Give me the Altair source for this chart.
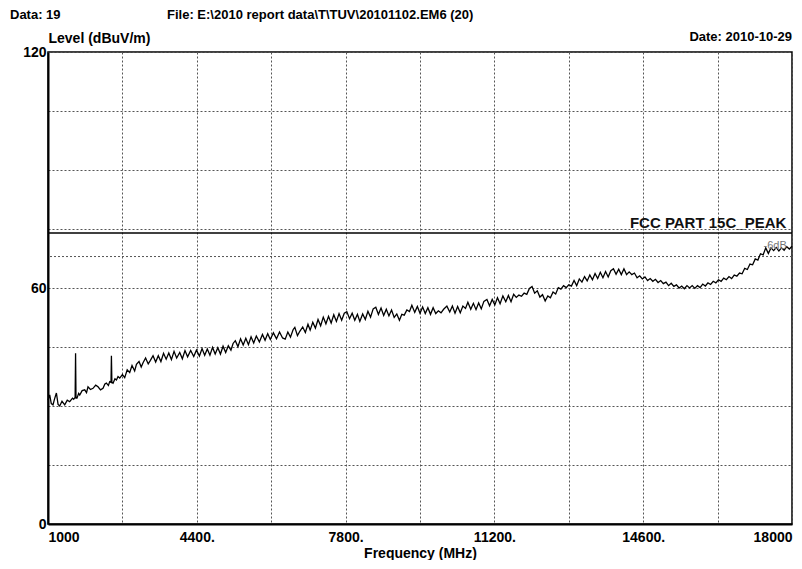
import altair as alt
import pandas as pd

# ---- data ----
freq_mhz = [
    1000, 1039, 1075, 1114, 1150, 1192, 1230, 1267, 1320, 1382, 1440, 1496, 1560, 1587,
    1620, 1630, 1640, 1663, 1700, 1725, 1780, 1839, 1880, 1914, 1970, 2029, 2090, 2143,
    2200, 2257, 2300, 2335, 2380, 2410, 2440, 2449, 2460, 2486, 2530, 2564, 2600, 2639,
    2700, 2753, 2810, 2867, 2920, 2980, 3021, 3080, 3130, 3172, 3230, 3290, 3340, 3400,
    3460, 3520, 3580, 3640, 3700, 3760, 3820, 3880, 3940, 4010, 4070, 4130, 4190, 4260,
    4330, 4392, 4460, 4520, 4580, 4640, 4700, 4760, 4820, 4880, 4940, 5000, 5060, 5120,
    5180, 5229, 5280, 5340, 5400, 5460, 5520, 5580, 5640, 5700, 5760, 5830, 5900, 5960,
    6020, 6080, 6150, 6221, 6290, 6360, 6420, 6480, 6540, 6600, 6640, 6700, 6754, 6820,
    6880, 6940, 6990, 7050, 7110, 7170, 7230, 7290, 7350, 7410, 7470, 7530, 7590, 7650,
    7710, 7770, 7828, 7890, 7950, 8010, 8070, 8125, 8190, 8250, 8310, 8370, 8430, 8490,
    8550, 8610, 8670, 8730, 8790, 8850, 8910, 8970, 9030, 9085, 9140, 9200, 9260, 9314,
    9380, 9440, 9500, 9560, 9620, 9680, 9740, 9800, 9860, 9920, 9980, 10040, 10114, 10180,
    10240, 10300, 10360, 10420, 10480, 10540, 10594, 10660, 10720, 10780, 10840, 10900,
    10960, 11029, 11090, 11150, 11210, 11270, 11330, 11394, 11460, 11520, 11580, 11640,
    11700, 11760, 11820, 11880, 11940, 12000, 12060, 12120, 12180, 12240, 12300, 12360,
    12420, 12480, 12540, 12600, 12660, 12720, 12780, 12840, 12900, 12960, 13020, 13080,
    13140, 13200, 13260, 13320, 13380, 13440, 13500, 13560, 13620, 13680, 13740, 13800,
    13860, 13920, 13980, 14040, 14100, 14160, 14220, 14280, 14340, 14400, 14460, 14520,
    14580, 14640, 14700, 14760, 14820, 14880, 14940, 15000, 15060, 15120, 15180, 15240,
    15300, 15360, 15420, 15480, 15540, 15600, 15660, 15720, 15780, 15840, 15900, 15960,
    16020, 16080, 16140, 16200, 16260, 16320, 16380, 16440, 16500, 16560, 16620, 16680,
    16740, 16800, 16860, 16920, 16980, 17040, 17100, 17160, 17220, 17280, 17340, 17400,
    17460, 17520, 17580, 17640, 17700, 17760, 17820, 17880, 17940, 18000,
]
level_dbuv = [
    31.5, 32.8, 30.6, 30.3, 31.8, 33.3, 30.4, 30.0, 31.2, 30.3, 31.5, 31.1, 32.0, 31.7,
    32.2, 43.4, 32.0, 32.0, 33.2, 32.8, 33.9, 34.1, 33.4, 34.9, 34.2, 34.5, 35.3, 34.9,
    34.1, 34.5, 35.6, 35.8, 35.2, 36.2, 36.0, 42.8, 36.0, 35.8, 36.9, 36.6, 37.5, 37.1,
    38.0, 37.2, 39.2, 38.5, 40.3, 38.9, 40.6, 41.3, 39.9, 41.0, 42.2, 40.7, 41.6, 42.8,
    41.2, 42.8, 41.3, 43.4, 41.9, 43.5, 41.8, 43.9, 42.2, 43.6, 42.0, 44.1, 42.5, 44.1,
    42.6, 44.2, 42.7, 44.6, 42.9, 44.5, 42.9, 44.9, 43.2, 44.8, 43.2, 45.2, 43.6, 45.3,
    44.2, 45.9, 46.6, 45.1, 47.1, 45.5, 47.2, 45.6, 47.6, 46.0, 47.8, 46.3, 48.2, 46.7,
    48.4, 46.9, 48.6, 47.1, 48.8, 47.3, 47.0, 48.8, 47.5, 49.4, 50.0, 47.9, 49.0, 50.1,
    48.7, 50.8, 49.3, 51.3, 49.8, 52.0, 50.4, 52.6, 50.9, 52.8, 51.1, 53.2, 51.5, 53.5,
    51.8, 53.6, 54.0, 52.2, 53.6, 51.8, 53.3, 51.5, 53.4, 52.0, 54.1, 52.6, 54.7, 55.1,
    53.3, 54.9, 53.0, 54.6, 52.9, 54.4, 52.5, 53.4, 51.8, 53.3, 53.1, 54.4, 54.0, 55.6,
    53.8, 55.3, 53.6, 55.2, 53.5, 55.0, 53.3, 55.0, 53.5, 54.2, 53.7, 54.6, 55.4, 53.9,
    55.4, 53.6, 55.3, 53.7, 55.4, 54.8, 56.4, 54.6, 56.1, 54.5, 56.2, 54.7,
    56.6, 57.1, 55.5, 57.1, 55.7, 57.5, 56.0, 58.0, 56.5, 58.1, 56.5, 58.4,
    57.6, 58.2, 57.9, 58.7, 58.4, 59.9, 60.4, 58.7, 59.3, 57.7, 58.3, 56.7,
    58.0, 57.5, 59.0, 58.5, 60.1, 59.7, 60.6, 60.1, 60.8, 60.5, 61.9, 60.6,
    62.3, 61.5, 62.9, 61.8, 63.3, 62.1, 63.7, 62.4, 64.0, 62.6, 64.2, 62.8,
    64.4, 64.9, 63.5, 64.8, 63.4, 64.9, 63.4, 64.1, 63.4, 63.8, 62.6, 63.1,
    62.3, 62.8, 61.9, 62.4, 61.7, 62.2, 61.4, 61.9, 61.1, 61.5, 60.6, 61.2,
    60.4, 60.8, 60.0, 60.5, 59.8, 60.6, 60.0, 60.6, 59.9, 60.6, 60.1, 61.0,
    60.5, 61.3, 60.9, 61.7, 61.3, 62.1, 61.7, 62.5, 62.1, 62.9, 62.4, 63.3,
    63.0, 63.8, 63.6, 65.0, 64.7, 66.1, 65.9, 67.4, 67.1, 68.7, 68.4, 70.2,
    68.8, 70.2, 69.5, 70.3, 69.4, 70.2, 69.6, 70.5, 69.9, 70.6,
]
assert len(freq_mhz) == len(level_dbuv)

grid_freqs = [1000, 2700, 4400, 6100, 7800, 9500, 11200, 12900, 14600, 16300, 18000]
label_freqs = [1000, 4400, 7800, 11200, 14600, 18000]
grid_levels = [0, 15, 30, 45, 60, 75, 90, 105, 120]
label_levels = [0, 60, 120]

limit_level = [74]
limit_name = ["FCC PART 15C_PEAK"]
limit_label_freq = [17870]
limit_label_level = [75.2]
margin_level = [68]
margin_name = ["-6dB"]
margin_label_freq = [17880]
margin_label_level = [70.8]

FONT = "Liberation Sans Narrow, Arial Narrow, Liberation Sans, Arial"

trace = pd.DataFrame({"freq": freq_mhz, "level": level_dbuv})
limits = pd.DataFrame({"level": limit_level})
margins = pd.DataFrame({"level": margin_level})
limit_txt = pd.DataFrame({"freq": limit_label_freq, "level": limit_label_level, "t": limit_name})
margin_txt = pd.DataFrame({"freq": margin_label_freq, "level": margin_label_level, "t": margin_name})

xscale = alt.Scale(domain=[1000, 18000], nice=False, zero=False)
yscale = alt.Scale(domain=[0, 120], nice=False)

lab_list = ",".join(str(v) for v in label_freqs)
x_axis = alt.Axis(
    values=grid_freqs,
    labelExpr=(
        f"indexof([{lab_list}], datum.value) >= 0 ? "
        f"((datum.value == {label_freqs[0]} || datum.value == {label_freqs[-1]}) ? ('' + datum.value) : ('' + datum.value + '.')) : ''"
    ),
    labelOverlap=False,
    labelFlush=True,
    labelPadding=6,
    ticks=False,
    grid=True,
    gridColor="#555555",
    gridDash=[2, 2],
    gridWidth=1,
    domainColor="black",
    domainWidth=2,
    title="Frequency (MHz)",
    titlePadding=2,
)
ylab = ",".join(str(v) for v in label_levels)
y_axis = alt.Axis(
    values=grid_levels,
    labelExpr=f"indexof([{ylab}], datum.value) >= 0 ? ('' + datum.value) : ''",
    labelOverlap=False,
    labelFlush=False,
    labelPadding=2,
    ticks=False,
    grid=True,
    gridColor="#555555",
    gridDash=[2, 2],
    gridWidth=1,
    domainColor="black",
    domainWidth=2,
    title="Level (dBuV/m)",
    titleAngle=0,
    titleAlign="left",
    titleBaseline="alphabetic",
    titleX=0,
    titleY=-10,
)

base_x = alt.X("freq:Q", scale=xscale, axis=x_axis)
base_y = alt.Y("level:Q", scale=yscale, axis=y_axis)

line = alt.Chart(trace).mark_line(color="black", strokeWidth=1.3).encode(x=base_x, y=base_y)

margin_rule = alt.Chart(margins).mark_rule(color="#555555", strokeDash=[2, 2], strokeWidth=1).encode(
    y=alt.Y("level:Q", scale=yscale)
)
limit_rule = alt.Chart(limits).mark_rule(color="black", strokeWidth=1.5).encode(
    y=alt.Y("level:Q", scale=yscale)
)
limit_label = alt.Chart(limit_txt).mark_text(
    align="right", baseline="alphabetic", font=FONT, fontSize=15, fontWeight="bold", color="#111111"
).encode(x=alt.X("freq:Q", scale=xscale), y=alt.Y("level:Q", scale=yscale), text="t:N")
margin_label = alt.Chart(margin_txt).mark_text(
    align="right", baseline="middle", font=FONT, fontSize=11, color="#777777"
).encode(x=alt.X("freq:Q", scale=xscale), y=alt.Y("level:Q", scale=yscale), text="t:N")

hdr = dict(font=FONT, fontSize=13, fontWeight="bold", color="black", baseline="middle")
t_data = alt.Chart(pd.DataFrame({"t": ["Data: 19"]})).mark_text(align="left", **hdr).encode(
    text="t:N", x=alt.value(-38), y=alt.value(-37)
)
t_file = alt.Chart(pd.DataFrame({"t": ["File: E:\\2010 report data\\T\\TUV\\20101102.EM6  (20)"]})).mark_text(
    align="left", **hdr
).encode(text="t:N", x=alt.value(119), y=alt.value(-37))
t_date = alt.Chart(pd.DataFrame({"t": ["Date: 2010-10-29"]})).mark_text(align="right", **hdr).encode(
    text="t:N", x=alt.value(744), y=alt.value(-15)
)

chart = (
    alt.layer(margin_rule, limit_rule, line, limit_label, margin_label, t_data, t_file, t_date)
    .properties(
        width=744,
        height=472,
        autosize=alt.AutoSizeParams(type="none"),
        padding={"left": 40, "top": 44, "right": 2, "bottom": 36},
        background="white",
    )
    .configure_view(stroke="black", strokeWidth=1.5)
    .configure_axis(
        labelFont=FONT,
        labelFontSize=14,
        labelFontWeight="bold",
        labelColor="black",
        titleFont=FONT,
        titleFontSize=14,
        titleFontWeight="bold",
        titleColor="black",
    )
)

chart.save("out.html", embed_options={"renderer": "svg", "actions": False})
